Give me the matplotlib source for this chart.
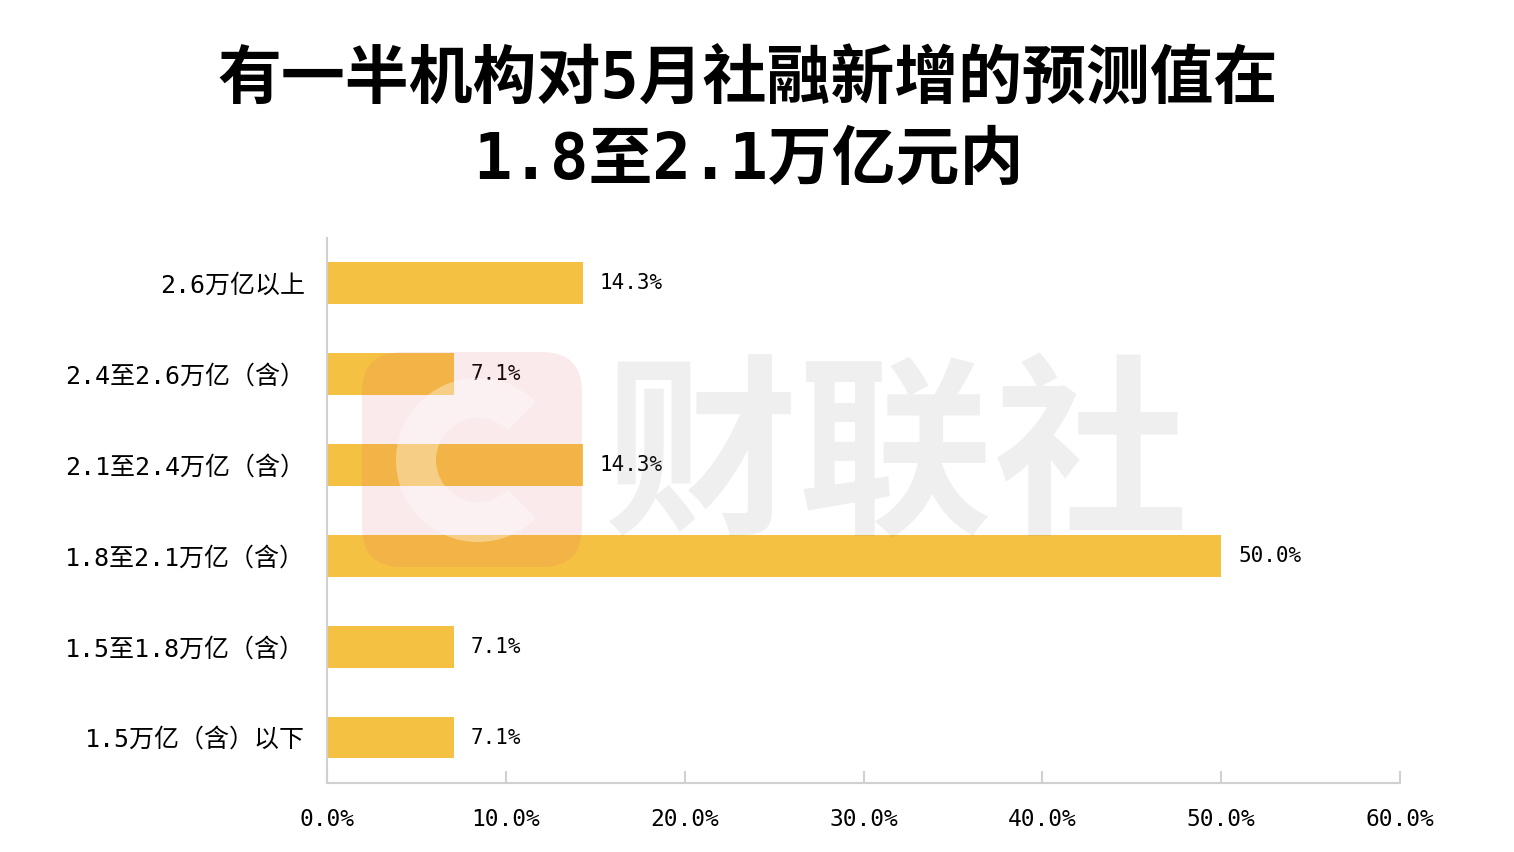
import matplotlib
matplotlib.use("Agg")
import matplotlib.pyplot as plt
from matplotlib.patches import FancyBboxPatch, Wedge

plt.rcParams['font.family'] = ['Noto Sans CJK SC', 'DejaVu Sans']
MIX = ['DejaVu Sans Mono', 'Noto Sans CJK SC']   # 等宽数字 + 中文

# 数据（自下而上）
categories = ["1.5万亿（含）以下", "1.5至1.8万亿（含）", "1.8至2.1万亿（含）",
              "2.1至2.4万亿（含）", "2.4至2.6万亿（含）", "2.6万亿以上"]
values = [7.1, 7.1, 50.0, 14.3, 7.1, 14.3]
xticks = [0, 10, 20, 30, 40, 50, 60]
title = "有一半机构对5月社融新增的预测值在\n1.8至2.1万亿元内"
watermark = "财联社"

bar_color = "#F5C142"

fig = plt.figure(figsize=(15.14, 8.52), dpi=100)
ax = fig.add_axes([0.216, 0.081, 0.7087, 0.6397])

y = range(len(categories))
ax.barh(y, values, height=0.46, color=bar_color, zorder=2)
for yi, v in zip(y, values):
    ax.text(v + 0.95, yi, f"{v:.1f}%", va="center", ha="left", fontsize=15,
            family=MIX, color="black")

ax.set_ylim(-0.5, len(categories) - 0.5)
ax.set_xlim(0, 60)
ax.set_yticks(list(y))
ax.set_yticklabels(categories, fontsize=18, family=MIX)
ax.set_xticks(xticks)
ax.set_xticklabels([f"{t:.1f}%" for t in xticks], fontsize=16.5, family=MIX)
ax.tick_params(axis="y", length=0, pad=16)
ax.tick_params(axis="x", direction="in", length=9, color="#D0D0D0", width=1.5, pad=18)

for s in ["top", "right"]:
    ax.spines[s].set_visible(False)
for s in ["left", "bottom"]:
    ax.spines[s].set_color("#D0D0D0")
    ax.spines[s].set_linewidth(1.5)

fig.text(0.494, 1 - 121 / 852, title, ha="center", va="center", fontsize=46,
         fontweight="bold", family=['DejaVu Sans Mono', 'Noto Sans CJK SC'],
         linespacing=1.38)

# 水印（像素坐标的覆盖层）
wm = fig.add_axes([0, 0, 1, 1], zorder=5)
wm.set_xlim(0, 1514)
wm.set_ylim(852, 0)
wm.axis("off")
wm.patch.set_alpha(0)
wm.add_patch(FancyBboxPatch((362, 352), 220, 215, boxstyle="round,pad=0,rounding_size=40",
                            facecolor="#E05A6A", edgecolor="none", alpha=0.12))
wm.add_patch(Wedge((478, 460), 82, 45, 315, width=40, facecolor="white",
                   edgecolor="none", alpha=0.35))
for ch, cx in zip(watermark, [700, 895, 1090]):
    wm.text(cx, 462, ch, fontsize=140, fontweight="bold", color="#888888", alpha=0.13,
            ha="center", va="center")

fig.savefig("out.png", dpi=100, facecolor="white")
